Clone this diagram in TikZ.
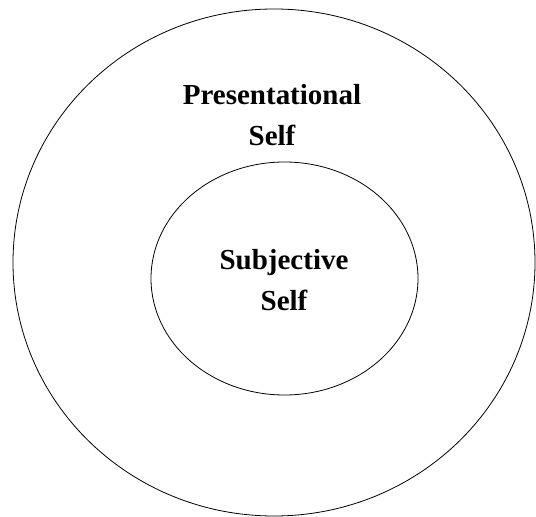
\documentclass[tikz,border=0pt]{standalone}
\usepackage{fontspec}
\setmainfont{Liberation Serif}
\usetikzlibrary{shapes.geometric, positioning}

\begin{document}
\begin{tikzpicture}[x=1pt, y=1pt,
    ring/.style={draw, ellipse, line width=0.8pt, inner sep=0pt},
    selflabel/.style={align=center, font=\fontsize{29}{41}\selectfont\bfseries}]

  \useasboundingbox (0,0) rectangle (536,517);

  % Outer ring: presentational self
  \node[ring, minimum width=522, minimum height=507] (outer) at (274,254.5) {};
  \node[selflabel, anchor=base] (presentational) at (272,371) {Presentational\\Self};

  % Inner ring: subjective self
  \node[ring, minimum width=267, minimum height=233] (inner) at (284.5,238.5) {};
  \node[selflabel, anchor=base] (subjective) at (284,206) {Subjective\\Self};

\end{tikzpicture}
\end{document}
